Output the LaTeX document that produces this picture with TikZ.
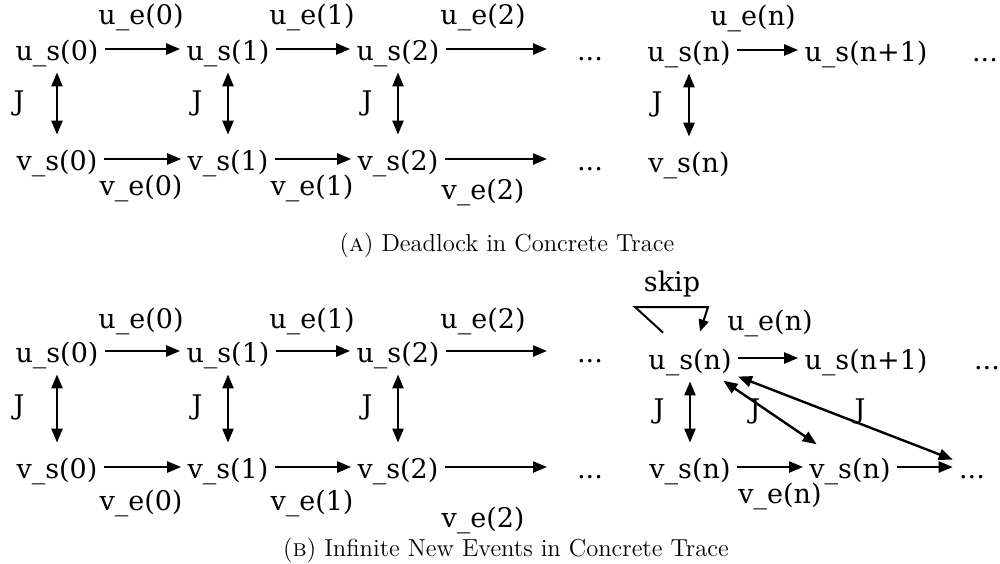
\documentclass[tikz,border=0pt]{standalone}
\usepackage{fontspec}
\newfontfamily\tracefont{DejaVu Serif}
\usetikzlibrary{arrows.meta}
\tikzset{
  trace state/.style={font=\tracefont\fontsize{13.5}{16}\selectfont, text height=12pt, text depth=1pt, inner sep=3pt, anchor=base},
  trace label/.style={font=\tracefont\fontsize{13.5}{16}\selectfont, inner sep=0pt, anchor=base},
  trace step/.style={line width=1.2pt, -{Triangle[length=7pt,width=5.5pt]}},
  trace join/.style={line width=1.2pt, {Triangle[length=7pt,width=5.5pt]}-{Triangle[length=7pt,width=5.5pt]}},
  trace loop/.style={line width=1pt, -{Triangle[length=6pt,width=5pt]}},
  trace caption/.style={font=\fontsize{12.3}{15}\selectfont, inner sep=0pt, anchor=base},
}

\begin{document}
\begin{tikzpicture}[x=0.5pt, y=-0.5pt]
  \useasboundingbox (0,0) rectangle (1000,563);

  % (a) first three steps
  \foreach \i/\x/\ex/\jx/\vy in {0/57/141/19/195, 1/228/312/197/195, 2/398/483/367/199} {
    \node[trace state] (a-us\i) at (\x,60) {u\_s(\i)};
    \node[trace state] (a-vs\i) at (\x,170) {v\_s(\i)};
    \node[trace label] (a-ue\i) at (\ex,24) {u\_e(\i)};
    \node[trace label] (a-ve\i) at (\ex,\vy) {v\_e(\i)};
    \node[trace label] (a-j\i) at (\jx,110) {J};
    \draw[trace join, shorten <=2pt, shorten >=2.5pt] (a-us\i) -- (a-vs\i);
  }
  \foreach \i/\j in {0/1,1/2} {
    \draw[trace step] (a-us\i) -- (a-us\j);
    \draw[trace step] (a-vs\i) -- (a-vs\j);
  }
  \coordinate (a-uend) at (547,49);
  \coordinate (a-vend) at (547,159);
  \draw[trace step] (a-us2) -- (a-uend);
  \draw[trace step] (a-vs2) -- (a-vend);
  \node[trace state] (a-udots) at (590,60) {...};
  \node[trace state] (a-vdots) at (590,170) {...};

  % (a) step n
  \node[trace state] (a-usn) at (689,61) {u\_s(n)};
  \node[trace state] (a-usn1) at (866,61) {u\_s(n+1)};
  \node[trace state] (a-ndots) at (985,61) {...};
  \node[trace state] (a-vsn) at (689,172) {v\_s(n)};
  \node[trace label] (a-uen) at (753,25) {u\_e(n)};
  \node[trace label] (a-jn) at (657,111) {J};
  \draw[trace step] (a-usn) -- (a-usn1);
  \draw[trace join, shorten <=2pt, shorten >=2.5pt] (a-usn) -- (a-vsn);

  \node[trace caption] (cap-a) at (507,251) {(\textsc{a}) Deadlock in Concrete Trace};

  % (b) first three steps
  \foreach \i/\x/\ex/\jx/\vy in {0/57/141/19/510, 1/228/312/197/510, 2/398/483/367/527} {
    \node[trace state] (b-us\i) at (\x,362) {u\_s(\i)};
    \node[trace state] (b-vs\i) at (\x,478) {v\_s(\i)};
    \node[trace label] (b-ue\i) at (\ex,328) {u\_e(\i)};
    \node[trace label] (b-ve\i) at (\ex,\vy) {v\_e(\i)};
    \node[trace label] (b-j\i) at (\jx,414) {J};
    \draw[trace join, shorten <=2pt, shorten >=2.5pt] (b-us\i) -- (b-vs\i);
  }
  \foreach \i/\j in {0/1,1/2} {
    \draw[trace step] (b-us\i) -- (b-us\j);
    \draw[trace step] (b-vs\i) -- (b-vs\j);
  }
  \coordinate (b-uend) at (547,351);
  \coordinate (b-vend) at (547,467);
  \draw[trace step] (b-us2) -- (b-uend);
  \draw[trace step] (b-vs2) -- (b-vend);
  \node[trace state] (b-udots) at (590,362) {...};
  \node[trace state] (b-vdots) at (590,478) {...};

  % (b) step n with skip and new events
  \node[trace state] (b-usn) at (690,369) {u\_s(n)};
  \node[trace state] (b-usn1) at (866,369) {u\_s(n+1)};
  \node[trace state] (b-ndots) at (987,369) {...};
  \node[trace state] (b-vsn) at (690,478) {v\_s(n)};
  \node[trace state] (b-vsn2) at (850,478) {v\_s(n)};
  \node[trace state] (b-vndots) at (972,478) {...};
  \node[trace label] (b-uen) at (770,330) {u\_e(n)};
  \node[trace label] (b-ven) at (780,503) {v\_e(n)};
  \node[trace label] (b-skip) at (672,291) {skip};
  \node[trace label] (b-jn) at (659,418) {J};
  \node[trace label] (b-jn2) at (755,418) {J};
  \node[trace label] (b-jn3) at (860,418) {J};
  \draw[trace step] (b-usn) -- (b-usn1);
  \draw[trace step] (b-vsn) -- (b-vsn2);
  \draw[trace step] (b-vsn2) -- (b-vndots);
  \draw[trace join, shorten <=2pt, shorten >=2.5pt] (b-usn) -- (b-vsn);
  \draw[trace join, shorten <=3pt, shorten >=3pt] (b-usn) -- (b-vsn2);
  \draw[trace join] (b-usn) -- (b-vndots);
  \coordinate (b-skipl) at (635,307);
  \coordinate (b-skipr) at (708,307);
  \draw[trace loop] ([shift={(-13.5pt,3pt)}]b-usn.north) -- (b-skipl) -- (b-skipr) -- ([shift={(5pt,3.5pt)}]b-usn.north);

  \node[trace caption] (cap-b) at (506,556) {(\textsc{b}) Infinite New Events in Concrete Trace};
\end{tikzpicture}
\end{document}
